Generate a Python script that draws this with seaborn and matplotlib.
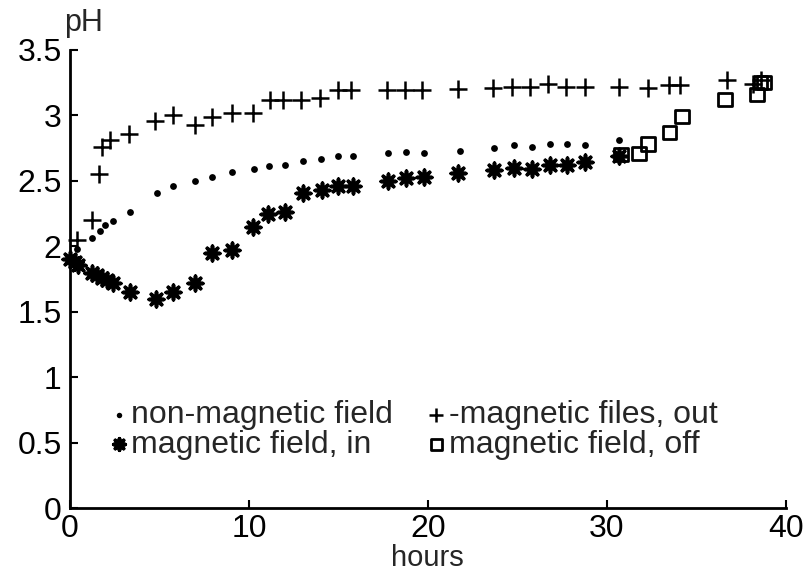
import matplotlib
matplotlib.use("Agg")
import matplotlib.pyplot as plt
import seaborn as sns
import pandas as pd

# ---- data ----
x_non = [0.4, 1.21, 1.68, 1.96, 2.39, 3.35, 4.84, 5.77, 6.98, 7.91, 9.03, 10.28, 11.1, 12.0,
         13.0, 14.0, 15.0, 15.8, 17.8, 18.8, 19.8, 21.8, 23.7, 24.8, 25.8, 26.8, 27.8, 28.8, 30.7]
y_non = [1.98, 2.06, 2.12, 2.16, 2.19, 2.26, 2.41, 2.46, 2.50, 2.53, 2.57, 2.59, 2.61, 2.62,
         2.65, 2.67, 2.69, 2.69, 2.71, 2.72, 2.71, 2.73, 2.75, 2.77, 2.76, 2.78, 2.78, 2.77, 2.81]

x_out = [0.37, 1.21, 1.64, 1.77, 2.23, 3.31, 4.75, 5.77, 6.98, 7.91, 9.03, 10.24, 11.17, 11.9,
         12.9, 13.97, 15.0, 15.7, 17.7, 18.7, 19.7, 21.7, 23.65, 24.7, 25.7, 26.7, 27.7, 28.8,
         30.7, 32.3, 33.5, 34.1, 36.7, 38.2, 38.6]
y_out = [2.05, 2.20, 2.55, 2.76, 2.81, 2.86, 2.96, 3.00, 2.93, 2.99, 3.02, 3.02, 3.12, 3.12,
         3.12, 3.13, 3.19, 3.19, 3.19, 3.19, 3.19, 3.20, 3.21, 3.22, 3.22, 3.24, 3.22, 3.22,
         3.22, 3.21, 3.23, 3.23, 3.27, 3.24, 3.27]

x_in = [0.0, 0.28, 0.46, 1.21, 1.49, 1.77, 2.05, 2.38, 3.35, 4.8, 5.77, 6.98, 7.91, 9.03, 10.24,
        11.08, 12.0, 13.0, 14.06, 15.0, 15.8, 17.8, 18.8, 19.8, 21.7, 23.7, 24.8, 25.8, 26.8,
        27.8, 28.8, 30.7]
y_in = [1.90, 1.88, 1.86, 1.80, 1.78, 1.76, 1.74, 1.72, 1.65, 1.60, 1.65, 1.72, 1.95, 1.97, 2.15,
        2.25, 2.26, 2.41, 2.43, 2.46, 2.46, 2.50, 2.52, 2.53, 2.56, 2.58, 2.60, 2.59, 2.62,
        2.62, 2.64, 2.69]

x_off = [30.8, 31.8, 32.3, 33.5, 34.2, 36.6, 38.4, 38.6, 38.8]
y_off = [2.70, 2.71, 2.78, 2.87, 2.99, 3.12, 3.16, 3.25, 3.25]

labels = ["non-magnetic field", "magnetic field, in", "-magnetic files, out", "magnetic field, off"]
x_ticks = [0, 10, 20, 30, 40]
y_ticks = [0, 0.5, 1, 1.5, 2, 2.5, 3, 3.5]
y_ticklabels = ["0", "0.5", "1", "1.5", "2", "2.5", "3", "3.5"]

# ---- styling ----
sns.set_theme(style="ticks")
plt.rcParams["font.family"] = ["Liberation Sans", "DejaVu Sans"]

fig = plt.figure(figsize=(8.05, 5.73), dpi=100)
ax = fig.add_axes([0.087, 0.113, 0.889, 0.80])

df_non = pd.DataFrame({"h": x_non, "pH": y_non})
df_out = pd.DataFrame({"h": x_out, "pH": y_out})
df_in = pd.DataFrame({"h": x_in, "pH": y_in})
df_off = pd.DataFrame({"h": x_off, "pH": y_off})

sns.scatterplot(data=df_non, x="h", y="pH", ax=ax, marker="o", s=24, color="black",
                linewidth=0, label=labels[0], clip_on=False)
sns.scatterplot(data=df_in, x="h", y="pH", ax=ax, marker=(8, 2, 0), s=110, color="black",
                edgecolor="black", linewidth=2.6, label=labels[1], clip_on=False)
sns.scatterplot(data=df_out, x="h", y="pH", ax=ax, marker="+", s=170, color="black",
                linewidth=1.8, label=labels[2], clip_on=False)
sns.scatterplot(data=df_off, x="h", y="pH", ax=ax, marker="s", s=95, facecolors="none",
                edgecolor="black", linewidth=2.0, label=labels[3], clip_on=False)

ax.set_xlim(0, 40)
ax.set_ylim(0, 3.5)
ax.set_xticks(x_ticks)
ax.set_yticks(y_ticks)
ax.set_yticklabels(y_ticklabels)
ax.tick_params(direction="in", length=6, width=1.5, colors="black", labelsize=23, pad=6)
ax.tick_params(axis="x", pad=4)
for s in ["top", "right"]:
    ax.spines[s].set_visible(False)
for s in ["left", "bottom"]:
    ax.spines[s].set_linewidth(2.0)
    ax.spines[s].set_color("black")

ax.set_xlabel("hours", fontsize=21)
ax.xaxis.set_label_coords(0.5, -0.078)
ax.set_ylabel("")
ax.text(-0.008, 1.025, "pH", transform=ax.transAxes, fontsize=22, ha="left", va="bottom")

handles, labs = ax.get_legend_handles_labels()
leg = ax.legend(handles, labs, ncol=2, loc="upper left", bbox_to_anchor=(0.03, 0.27),
                frameon=False, fontsize=23, handletextpad=0.05, handlelength=0.7,
                columnspacing=1.0, labelspacing=-0.02, borderpad=0, markerscale=0.8)

fig.savefig("out.png", dpi=100)
